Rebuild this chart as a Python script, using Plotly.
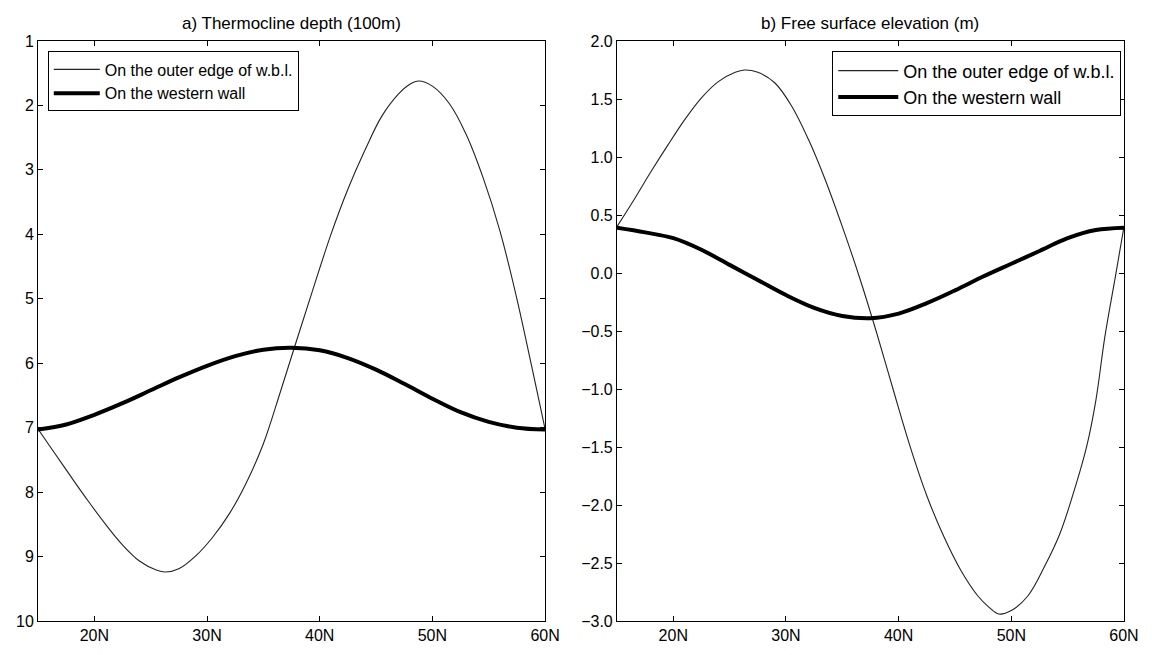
import plotly.graph_objects as go
from plotly.subplots import make_subplots

# ---- data ----
lat_thin = [15, 16.5, 18, 19.5, 21, 22.5, 24, 25.5, 26.3, 27.5, 29, 30.5, 32, 33.5, 35, 36.5,
            38, 39.5, 41, 42.5, 44, 45.5, 47, 48, 48.8, 50, 51.5, 53, 54.5, 56, 57.5, 59, 60]
thermo_edge = [7.02, 7.40, 7.78, 8.15, 8.50, 8.82, 9.07, 9.21, 9.24, 9.19, 8.99, 8.70, 8.33, 7.85,
               7.25, 6.45, 5.62, 4.80, 4.00, 3.30, 2.70, 2.17, 1.82, 1.67, 1.62, 1.70, 1.97, 2.45,
               3.12, 3.95, 5.00, 6.20, 7.02]

lat_wall = [15, 17.5, 20, 22.5, 25, 27.5, 30, 32.5, 35, 37.5, 40, 42.5, 45, 47.5, 50, 52.5, 55, 57.5, 60]
thermo_wall = [7.03, 6.95, 6.80, 6.62, 6.42, 6.22, 6.04, 5.89, 5.79, 5.76, 5.80, 5.92, 6.10, 6.32,
               6.55, 6.76, 6.91, 7.00, 7.03]

lat_thin_b = [15, 16.5, 18, 19.5, 21, 22.5, 24, 25.5, 26.3, 27.5, 29, 30.5, 32, 33.5, 35, 36.5, 38,
              39.5, 41, 42.5, 44, 45.5, 47, 48, 48.9, 50, 51.5, 53, 54.3, 55.5, 56.7, 57.5, 58.3, 59.2, 60]
surf_edge = [0.40, 0.63, 0.87, 1.10, 1.32, 1.51, 1.65, 1.73, 1.75, 1.73, 1.64, 1.44, 1.15, 0.80, 0.40,
             -0.03, -0.50, -1.00, -1.49, -1.92, -2.27, -2.56, -2.78, -2.88, -2.94, -2.91, -2.78,
             -2.52, -2.25, -1.90, -1.49, -1.10, -0.55, -0.05, 0.40]

surf_wall = [0.39, 0.35, 0.30, 0.20, 0.07, -0.06, -0.19, -0.30, -0.37, -0.39, -0.35, -0.26, -0.15,
             -0.03, 0.08, 0.19, 0.30, 0.37, 0.39]

xtick_vals = [20, 30, 40, 50, 60]
xtick_text = ["20N", "30N", "40N", "50N", "60N"]
titles = ["a) Thermocline depth (100m)", "b) Free surface elevation (m)"]
names = ["On the outer edge of w.b.l.", "On the western wall"]

FONT = "Liberation Sans, Arial, Helvetica, sans-serif"

fig = make_subplots(rows=1, cols=2, horizontal_spacing=0.0662)

thin = dict(color="#222222", width=1.1, shape="spline", smoothing=1.0)
thick = dict(color="black", width=4, shape="spline", smoothing=1.0)

fig.add_trace(go.Scatter(x=lat_thin, y=thermo_edge, mode="lines", name=names[0],
                         line=thin, legend="legend"), row=1, col=1)
fig.add_trace(go.Scatter(x=lat_wall, y=thermo_wall, mode="lines", name=names[1],
                         line=thick, legend="legend"), row=1, col=1)
fig.add_trace(go.Scatter(x=lat_thin_b, y=surf_edge, mode="lines", name=names[0],
                         line=thin, legend="legend2"), row=1, col=2)
fig.add_trace(go.Scatter(x=lat_wall, y=surf_wall, mode="lines", name=names[1],
                         line=thick, legend="legend2"), row=1, col=2)

axis_common = dict(showline=True, linecolor="black", linewidth=1, mirror="ticks",
                   ticks="inside", ticklen=5, tickcolor="black", tickwidth=1,
                   showgrid=False, zeroline=False,
                   tickfont=dict(family=FONT, size=16, color="black"))

for c in (1, 2):
    fig.update_xaxes(range=[15, 60], tickvals=xtick_vals, ticktext=xtick_text,
                     **axis_common, row=1, col=c)

fig.update_yaxes(range=[10, 1], tickvals=list(range(1, 11)), **axis_common, row=1, col=1)
fig.update_yaxes(range=[-3, 2], dtick=0.5, tick0=-3, tickformat=".1f", **axis_common, row=1, col=2)

fig.update_layout(
    width=1152, height=655,
    margin=dict(l=38, r=28, t=41, b=34),
    paper_bgcolor="white", plot_bgcolor="white",
    font=dict(family=FONT, size=16, color="black"),
    legend=dict(x=0.009, y=0.982, xanchor="left", yanchor="top",
                bgcolor="white", bordercolor="black", borderwidth=1,
                font=dict(family=FONT, size=16, color="black"),
                tracegroupgap=0, itemwidth=46),
    legend2=dict(x=0.9975, y=0.982, xanchor="right", yanchor="top",
                 bgcolor="white", bordercolor="black", borderwidth=1,
                 font=dict(family=FONT, size=18, color="black"),
                 tracegroupgap=0, itemwidth=60),
    annotations=[
        dict(text=titles[0], x=0.2334, y=1, xref="paper", yref="paper", xanchor="center",
             yanchor="bottom", yshift=6, showarrow=False, font=dict(family=FONT, size=17, color="black")),
        dict(text=titles[1], x=0.7665, y=1, xref="paper", yref="paper", xanchor="center",
             yanchor="bottom", yshift=6, showarrow=False, font=dict(family=FONT, size=17, color="black")),
    ],
)

fig.write_html("out.html")
